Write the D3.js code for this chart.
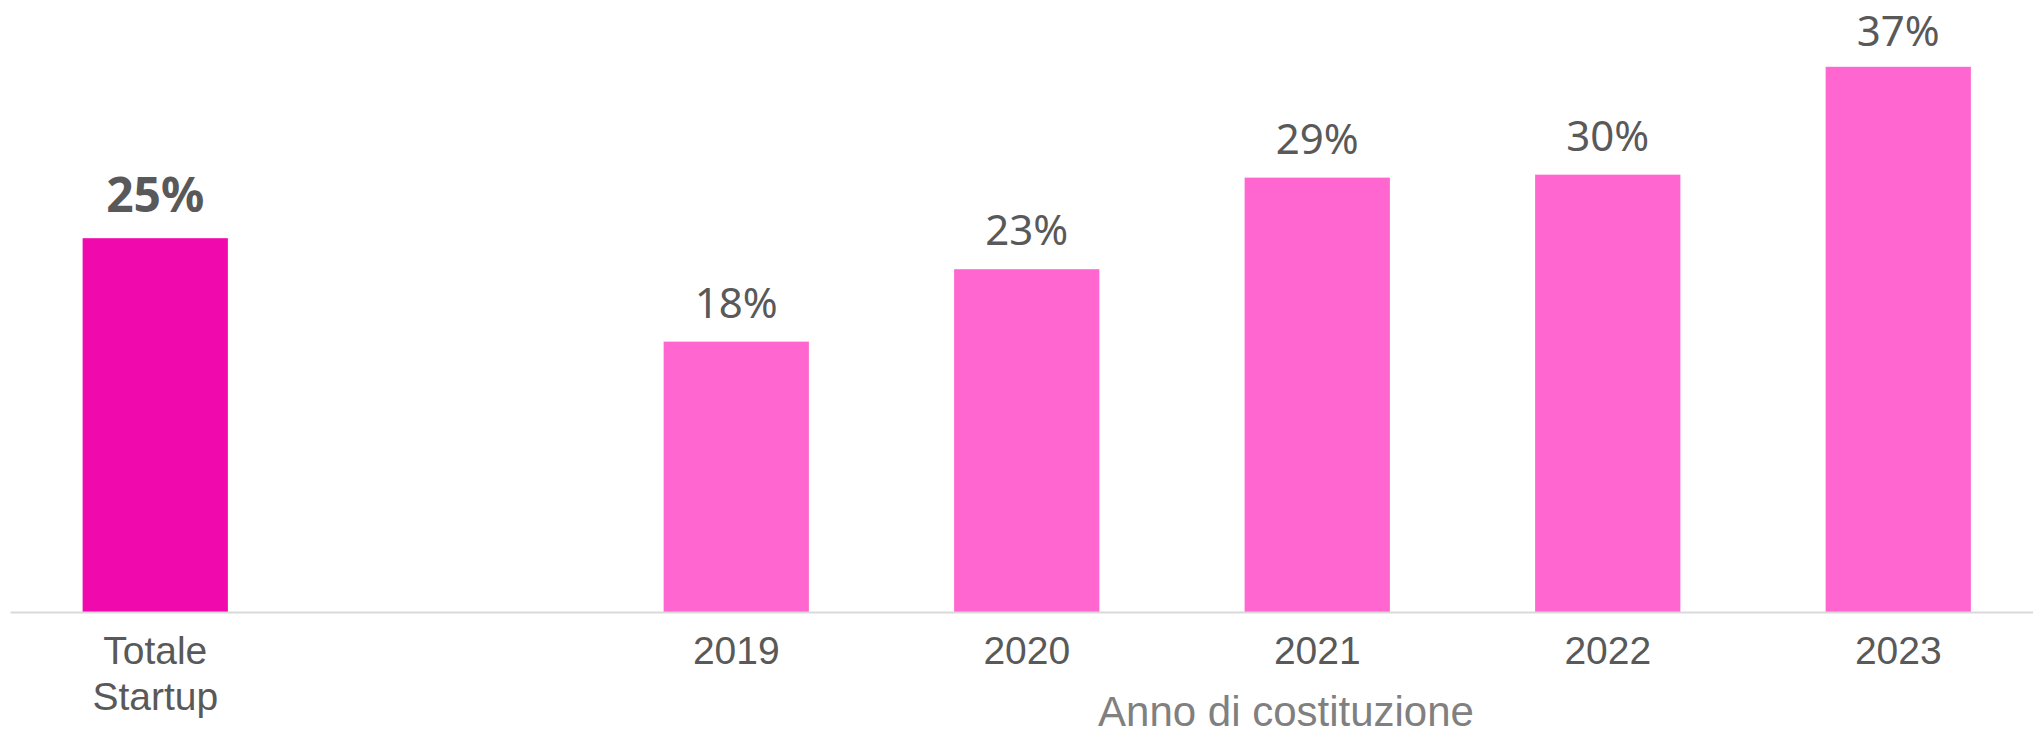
<!DOCTYPE html>
<html>
<head>
<meta charset="utf-8">
<script src="https://cdn.jsdelivr.net/npm/d3@7"></script>
<style>
  body { margin: 0; background: #fff; }
  .chart { width: 2033px; height: 736px; }
</style>
</head>
<body>
<div class="chart"></div>
<script>
// dati
const categories = ['Totale Startup', '2019', '2020', '2021', '2022', '2023']
const shares = [0.253, 0.183, 0.232, 0.294, 0.296, 0.369]
const axisTitle = 'Anno di costituzione'

const margin = {top: 21, right: 0, bottom: 124, left: 10}
let width = 2033 - margin.left - margin.right
let height = 736 - margin.top - margin.bottom

const svg = d3.select('.chart')
  .append('svg')
    .attr('width', width + margin.left + margin.right)
    .attr('height', height + margin.top + margin.bottom)
  .append('g')
    .attr('transform', `translate(${margin.left}, ${margin.top})`)

// uno slot vuoto tra il totale e gli anni
const slots = [categories[0], 'gap', ...categories.slice(1)]
const data = categories.map((c, i) => ({cat: c, value: shares[i], total: i === 0}))

const xScale = d3.scaleBand()
  .domain(slots)
  .range([0, 290.5 * slots.length])
  .paddingInner(0.5)
  .paddingOuter(0.25)

const yScale = d3.scaleLinear()
  .domain([0, 0.4])
  .range([height, 0])

svg.selectAll('.bar')
  .data(data)
  .enter()
  .append('rect')
    .attr('class', 'bar')
    .attr('x', d => xScale(d.cat))
    .attr('y', d => yScale(d.value))
    .attr('width', xScale.bandwidth())
    .attr('height', d => height - yScale(d.value))
    .style('fill', d => d.total ? '#f00aad' : '#ff66cf')

const fmt = d3.format('.0%')
svg.selectAll('.label')
  .data(data)
  .enter()
  .append('text')
    .attr('class', 'label')
    .attr('x', d => xScale(d.cat) + xScale.bandwidth() / 2)
    // non uscire dal bordo superiore
    .attr('y', d => Math.max(yScale(d.value) - (d.total ? 26 : 24), 46 - margin.top))
    .attr('text-anchor', 'middle')
    .style('font-family', '"Noto Sans", sans-serif')
    .style('font-size', d => d.total ? '48px' : '42px')
    .style('font-weight', d => d.total ? 'bold' : 'normal')
    .style('fill', '#595959')
    .text(d => fmt(d.value))

const xAxis = svg.append('g')
  .attr('transform', `translate(0, ${height})`)
  .call(d3.axisBottom(xScale)
    .tickSize(0)
    .tickPadding(24)
    .tickFormat(d => d === 'gap' ? '' : d))

xAxis.select('.domain')
  .attr('stroke', '#d9d9d9')
  .attr('stroke-width', 2)

xAxis.selectAll('text')
  .style('font-family', '"Liberation Sans", Arial, sans-serif')
  .style('font-size', '39px')
  .style('fill', '#595959')

// "Totale Startup" su due righe
xAxis.selectAll('.tick text')
  .filter(d => d === categories[0])
  .each(function(d) {
    const t = d3.select(this).text('')
    d.split(' ').forEach((w, i) => {
      t.append('tspan')
        .attr('x', 0)
        .attr('dy', i === 0 ? '0.71em' : '1.2em')
        .text(w)
    })
  })
  .attr('dy', null)

svg.append('text')
  .attr('x', 1286 - margin.left)
  .attr('y', height + 114)
  .attr('text-anchor', 'middle')
  .style('font-family', '"Liberation Sans", Arial, sans-serif')
  .style('font-size', '42px')
  .style('fill', '#808080')
  .text(axisTitle)
</script>
</body>
</html>
